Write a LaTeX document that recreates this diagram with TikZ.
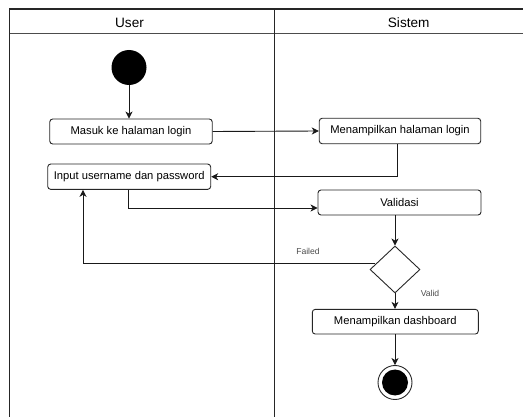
\documentclass[tikz,border=0pt]{standalone}
\usepackage{fontspec}
\setmainfont{Liberation Sans}
\usetikzlibrary{shapes.geometric,arrows.meta}
\begin{document}
\begin{tikzpicture}[x=1pt,y=-1pt,
  lane/.style={line width=1.4pt,draw=black!85},
  actbox/.style={draw=black!85,line width=0.9pt,rounded corners=3pt,inner sep=0pt,
    font=\fontsize{11.2}{13}\selectfont},
  flow/.style={line width=0.9pt,draw=black!90,-{Stealth[length=7pt,width=7pt,inset=2pt]}},
  lbl/.style={inner sep=0pt,text=black!70,font=\fontsize{8.6}{10}\selectfont},
  hdr/.style={inner sep=0pt,font=\fontsize{13.6}{16}\selectfont}]
\useasboundingbox (0,0) rectangle (523,417);
% swimlane frame
\draw[lane] (523,9) -- (9.5,9) -- (9.5,417);
\draw[line width=1pt,draw=black!70] (9.5,34) -- (523,34);
\draw[lane] (274.5,9) -- (274.5,417);
\node[hdr] (huser) at (129.5,22.5) {User};
\node[hdr] (hsis) at (408.7,22.5) {Sistem};
% nodes
\node[circle,fill=black,minimum size=35pt,inner sep=0pt] (start) at (129,67.5) {};
\node[actbox,minimum width=162.5pt,minimum height=25pt] (masuk) at (131,131.5) {Masuk ke halaman login};
\node[actbox,minimum width=161.5pt,minimum height=25.5pt] (menamp) at (400,131) {Menampilkan halaman login};
\node[actbox,minimum width=163pt,minimum height=25.3pt] (input) at (129.2,176.7) {Input username dan password};
\node[actbox,minimum width=163pt,minimum height=25pt] (valid) at (399.5,202.5) {Validasi};
\node[diamond,draw=black!85,line width=0.9pt,minimum width=50pt,minimum height=47pt,inner sep=0pt] (dec) at (395,269.5) {};
\node[actbox,minimum width=166pt,minimum height=24.7pt] (dash) at (395.3,321.7) {Menampilkan dashboard};
\node[circle,draw=black!85,line width=0.9pt,minimum size=34pt,inner sep=0pt] (end) at (395,382.5) {};
\fill[black] (end.center) circle (13pt);
\node[lbl] (lfail) at (308,251.7) {Failed};
\node[lbl] (lvalid) at (430,293.3) {Valid};
\coordinate (failx) at (83,264);
% connectors
\draw[flow] (start.south) -- (start.south |- masuk.north);
\draw[flow] (masuk.east) -- (menamp.west);
\draw[flow] ([xshift=-3pt]menamp.south) |- (input.east);
\draw[flow] ([xshift=-1pt]input.south) |- ([yshift=-5.5pt]valid.west);
\draw[flow] (valid.south -| dec.north) -- (dec.north);
\draw[flow] (dec.164) -| (input.south -| failx);
\draw[flow] (dec.south) -- (dec.south |- dash.north);
\draw[flow] (dash.south -| end.north) -- (end.north);
\end{tikzpicture}
\end{document}
